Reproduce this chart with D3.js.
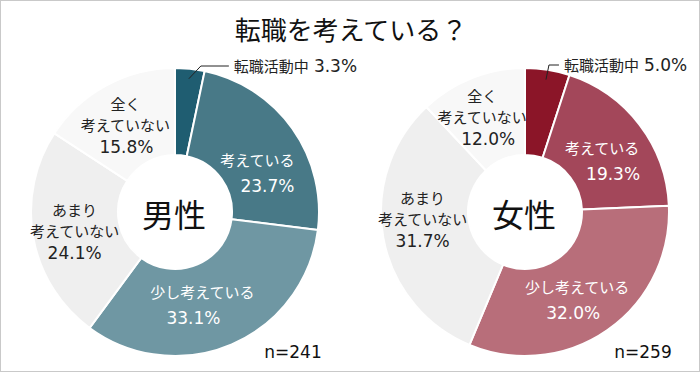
<!DOCTYPE html>
<html><head><meta charset="utf-8">
<script src="https://cdn.jsdelivr.net/npm/d3@7"></script>
<style>
html,body{margin:0;padding:0;background:#fff;}
svg{display:block;font-family:"Noto Sans CJK JP","Noto Sans",sans-serif;}
.num{font-family:"DejaVu Sans","Noto Sans CJK JP",sans-serif;}
</style></head>
<body>
<svg id="c" width="700" height="372"></svg>
<script>
const title = "転職を考えている？";
const categories = ["転職活動中","考えている","少し考えている","あまり考えていない","全く考えていない"];
const labelLines = [["転職活動中"],["考えている"],["少し考えている"],["あまり","考えていない"],["全く","考えていない"]];
const groups = ["男性","女性"];
const sampleSizes = ["n=241","n=259"];
const menValues = [3.3, 23.7, 33.1, 24.1, 15.8];
const womenValues = [5.0, 19.3, 32.0, 31.7, 12.0];
const menColors = ["#1f5d71","#487987","#6f97a3","#efefef","#f8f8f8"];
const womenColors = ["#8b1528","#a3475a","#b86e7a","#efefef","#f8f8f8"];

const svg = d3.select("#c");
svg.append("rect").attr("x",0.5).attr("y",0.5).attr("width",699).attr("height",371)
  .attr("fill","#fff").attr("stroke","#c9c9c9");
svg.append("text").attr("x",351).attr("y",40).attr("text-anchor","middle")
  .attr("font-size",26).attr("fill","#111").text(title);

const outerR = 144, innerR = 57;
const pie = d3.pie().sort(null).value(d=>d);
const arc = d3.arc().innerRadius(innerR).outerRadius(outerR);
const labelArc = d3.arc().innerRadius(100).outerRadius(100);

// per-chart label nudges (layout only)
const nudges = [
  [null,[6,18.5],[-16.5,1.5],[-2,2],[-2,1]],
  [null,[3,9.5],[-7,6],[-4,-10],[-6,-2]]
];
const lineDx = [
  [null,[-5,5],[4.5,-4.5],[0,0,0],[0,0,1]],
  [null,[-5.5,5.5],[2,-2],[0,0,0],[0,0,6]]
];

function drawDonut(cx, cy, values, colors, gi) {
  const g = svg.append("g").attr("transform",`translate(${cx},${cy})`);
  const arcs = pie(values);
  g.selectAll("path").data(arcs).enter().append("path")
    .attr("d",arc).attr("fill",(d,i)=>colors[i])
    .attr("stroke","#fff").attr("stroke-width",2).attr("stroke-linejoin","round");

  arcs.forEach((a,i)=>{
    if(i===0) return;
    const [x,y] = labelArc.centroid(a);
    const nd = nudges[gi][i];
    const lines = labelLines[i].concat([values[i].toFixed(1)+"%"]);
    const lh = i>=3 ? 21 : 25;
    const fill = i<3 ? "#fff" : "#222";
    const t = g.append("text").attr("text-anchor","middle").attr("fill",fill);
    const n = lines.length;
    lines.forEach((ln,k)=>{
      const dx = lineDx[gi][i][k];
      const isNum = k===n-1;
      t.append("tspan").attr("x",x+nd[0]+dx)
        .attr("y",y+nd[1]+(k-(n-1)/2)*lh+(isNum?6.5:5.5))
        .attr("class", isNum ? "num" : null)
        .attr("font-size", isNum ? 17 : 15)
        .text(ln);
    });
  });

  // callout for the first slice
  const a0 = arcs[0];
  const mid = (a0.startAngle+a0.endAngle)/2;
  const r0 = outerR - 10;
  const px = r0*Math.sin(mid), py = -r0*Math.cos(mid);
  const ex = px + (gi===0? 12 : 3), ey = -cy + (gi===0? 66 : 65);
  const hx = ex + (gi===0? 28 : 10);
  g.append("path").attr("d",`M${px},${py}L${ex},${ey}L${hx},${ey}`)
    .attr("fill","none").attr("stroke","#222").attr("stroke-width",1);
  const ct = g.append("text").attr("x",hx+5).attr("y",ey+6).attr("fill","#222");
  ct.append("tspan").attr("font-size",15).text(categories[0]);
  ct.append("tspan").attr("class","num").attr("dx",5).attr("font-size",17).text(values[0].toFixed(1)+"%");

  g.append("text").attr("x",-1).attr("y",15).attr("text-anchor","middle")
    .attr("font-size",32).attr("fill","#111").text(groups[gi]);
  g.append("text").attr("x",118).attr("y",146).attr("text-anchor","middle")
    .attr("class","num").attr("font-size",17).attr("fill","#111").text(sampleSizes[gi]);
}

drawDonut(175, 212, menValues, menColors, 0);
drawDonut(525, 212, womenValues, womenColors, 1);
</script>
</body></html>
